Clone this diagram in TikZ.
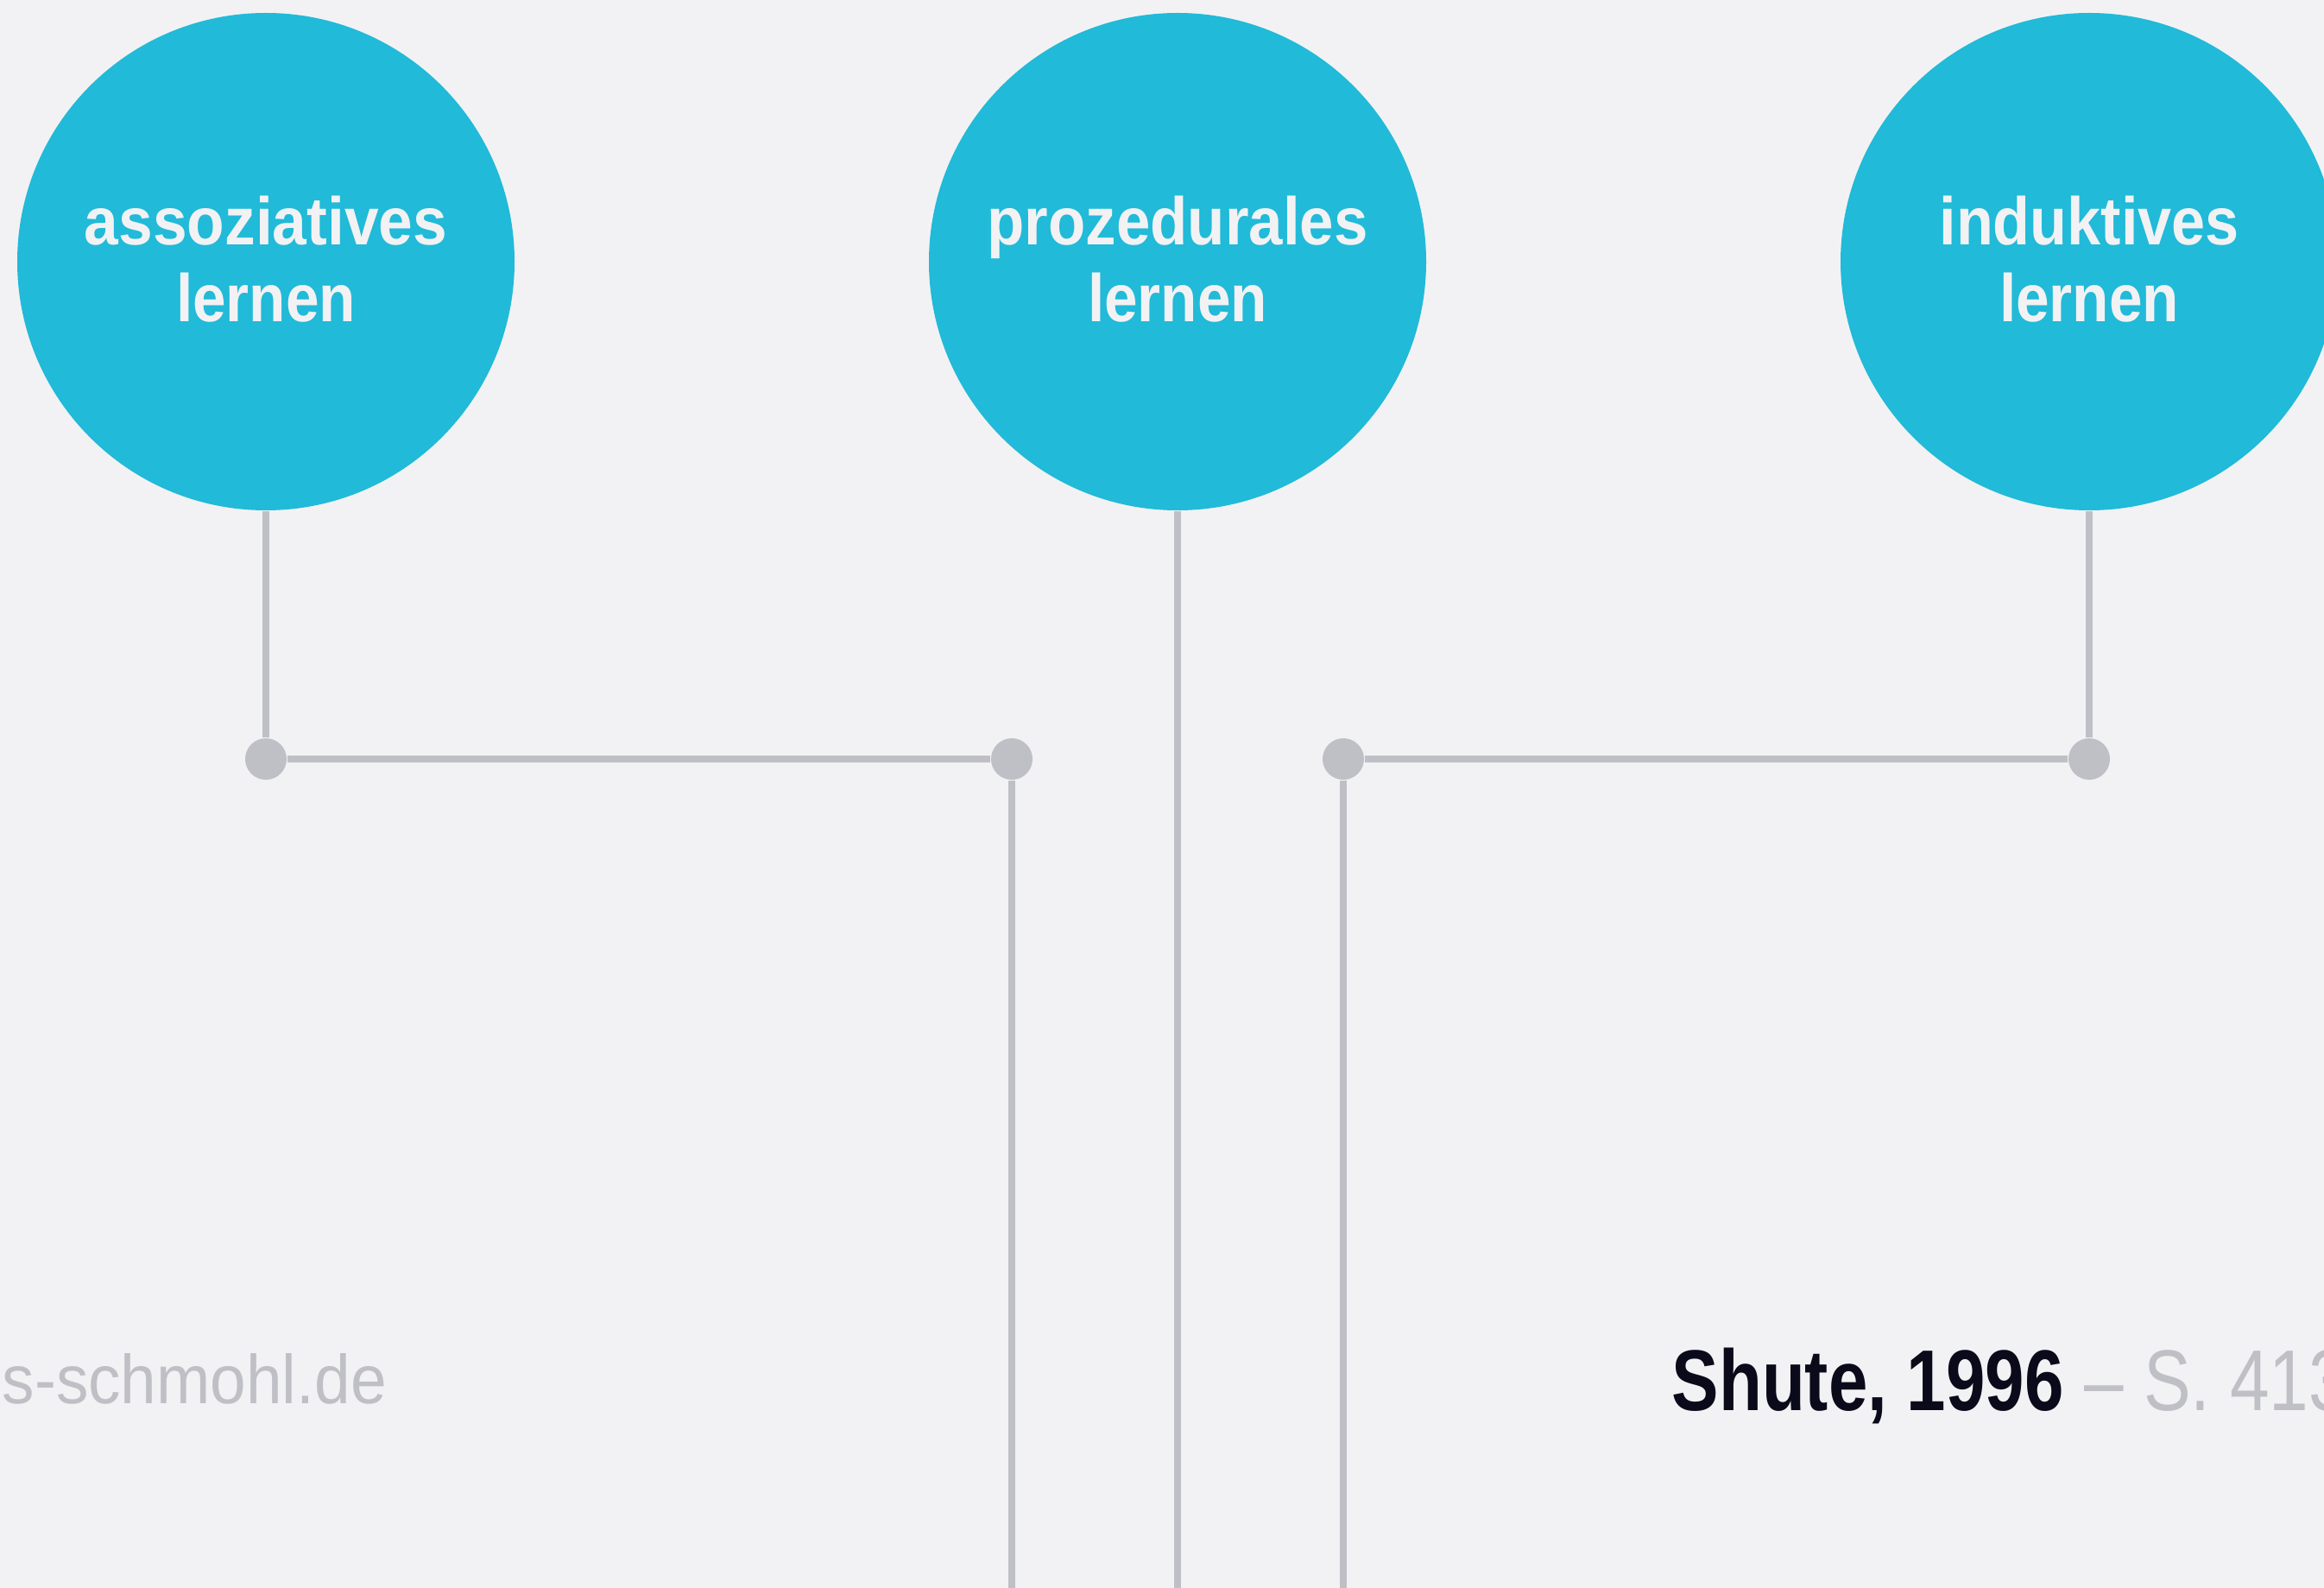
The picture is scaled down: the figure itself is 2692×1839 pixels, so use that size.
\documentclass[tikz,border=0pt]{standalone}
\usepackage{fontspec}
\setmainfont{Liberation Sans}
\usepackage{graphicx}
\definecolor{bgc}{HTML}{F2F2F4}
\definecolor{cyanfill}{HTML}{21BAD8}
\definecolor{lgray}{HTML}{BFBFC6}
\definecolor{inkc}{HTML}{0A0A1A}
\newcommand{\fitw}[2]{\resizebox{#1}{\height}{#2}}
\begin{document}
\begin{tikzpicture}[x=0.3pt,y=-0.3pt,
  bubble/.style={circle, fill=cyanfill, minimum size=172.8pt, inner sep=0pt},
  dot/.style={circle, fill=lgray, minimum size=14.4pt, inner sep=0pt},
  wire/.style={draw=lgray, line width=2.4pt},
  lab/.style={text=bgc, font=\fontsize{23.4}{28}\selectfont\bfseries, inner sep=0pt, anchor=base},
  foot/.style={text=lgray, font=\fontsize{24}{28}\selectfont, inner sep=0pt, anchor=base west},
  srcstyle/.style={inner sep=0pt, anchor=base west, font=\fontsize{30}{36}\selectfont}]
\fill[bgc] (0,0) rectangle (2692,1839);
\useasboundingbox (0,0) rectangle (2692,1839);
\clip (0,0) rectangle (2692,1839);

% bubbles
\node[bubble] (c1) at (308,303) {};
\node[bubble] (c2) at (1364,303) {};
\node[bubble] (c3) at (2420,303) {};

\node[lab] (c1a) at (308,284) {\fitw{126pt}{assoziatives}};
\node[lab] (c1b) at (308,373) {\fitw{62.4pt}{lernen}};
\node[lab] (c2a) at (1364,284) {\fitw{132.3pt}{prozedurales}};
\node[lab] (c2b) at (1364,373) {\fitw{62.4pt}{lernen}};
\node[lab] (c3a) at (2420,284) {\fitw{104.1pt}{induktives}};
\node[lab] (c3b) at (2420,373) {\fitw{62.4pt}{lernen}};

% junction dots
\node[dot] (d1) at (308,879) {};
\node[dot] (d2) at (1172,879) {};
\node[dot] (d3) at (1556,879) {};
\node[dot] (d4) at (2420,879) {};

\coordinate (b2) at (1172,1850);
\coordinate (bm) at (1364,1850);
\coordinate (b3) at (1556,1850);

% connectors
\draw[wire] (c1) -- (d1);
\draw[wire] (d1) -- (d2);
\draw[wire] (d2) -- (b2);
\draw[wire] (c2) -- (bm);
\draw[wire] (c3) -- (d4);
\draw[wire] (d4) -- (d3);
\draw[wire] (d3) -- (b3);

% footer texts
\node[foot] (site) at (2,1625) {\fitw{133.5pt}{s-schmohl.de}};
\node[srcstyle, text=inkc] (src) at (1936,1633) {\fitw{136.2pt}{\bfseries Shute, 1996}};
\node[srcstyle, text=lgray] (pg) at (2414,1633) {\scalebox{0.82}[1]{– S. 413}};
\end{tikzpicture}
\end{document}
